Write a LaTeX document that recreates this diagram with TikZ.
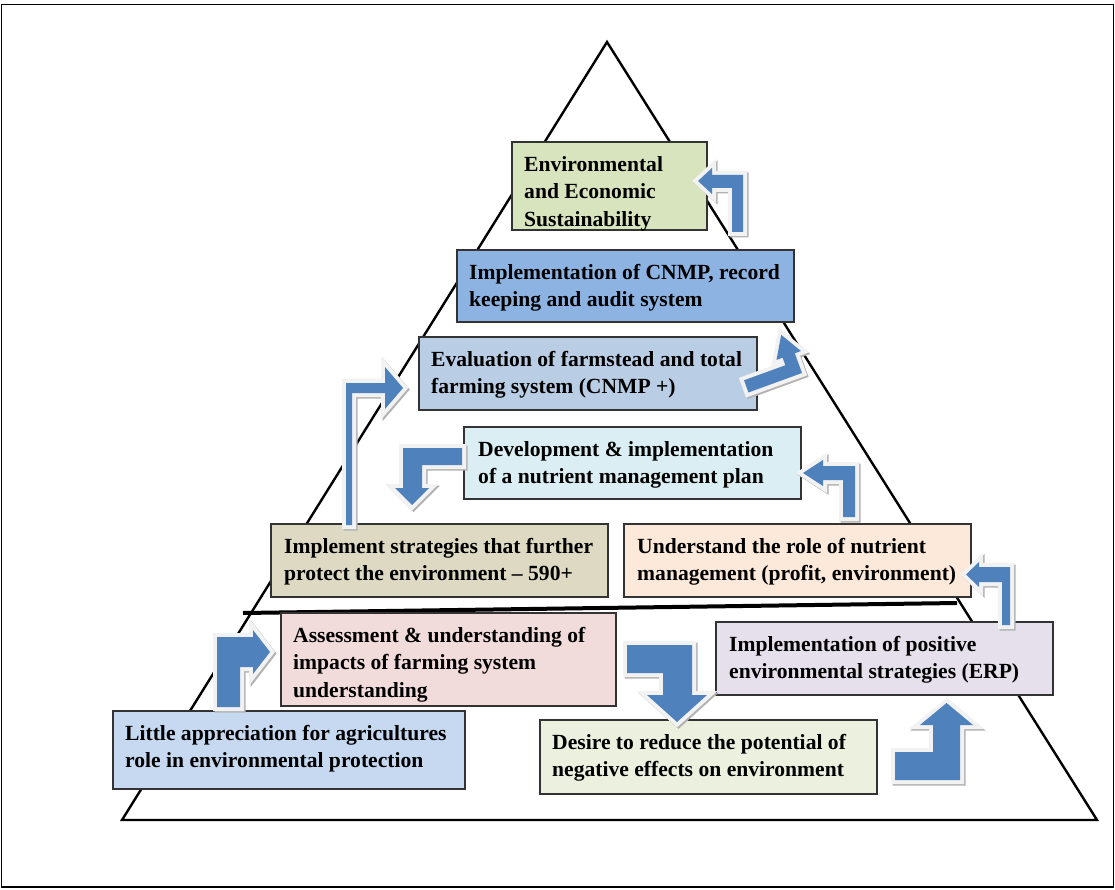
\documentclass[tikz,border=0pt]{standalone}
\usepackage{fontspec}
\setmainfont{Liberation Serif}
\definecolor{arrowblue}{HTML}{4F81BD}
\definecolor{cA}{HTML}{D7E4BD}
\definecolor{cB}{HTML}{8DB3E2}
\definecolor{cC}{HTML}{B9CDE5}
\definecolor{cD}{HTML}{DBEEF4}
\definecolor{cE}{HTML}{DDD9C3}
\definecolor{cF}{HTML}{FDE9D9}
\definecolor{cG}{HTML}{F2DCDB}
\definecolor{cH}{HTML}{E5E0EC}
\definecolor{cI}{HTML}{C6D9F1}
\definecolor{cJ}{HTML}{EBF1DE}
\newcommand\myblockarrow[2][]{%
  \draw[arrowshadow,#1] #2;
  \draw[arrowrim,#1] #2;
  \fill[arrowfill,#1] #2;}
\begin{document}
\begin{tikzpicture}[x=1pt,y=-1pt,
  box/.style={draw=black!80, line width=1.1pt, anchor=north west, inner sep=0pt, outer sep=0pt},
  lbl/.style={anchor=north west, inner sep=0pt, align=left, font=\bfseries\fontsize{21.6}{27.5}\selectfont},
  arrowshadow/.style={draw=black!30, fill=black!30, line width=8pt, line join=miter, xshift=1.5pt, yshift=-1.5pt},
  arrowrim/.style={draw=black!5, fill=black!5, line width=8pt, line join=miter},
  arrowfill/.style={fill=arrowblue}]
\useasboundingbox (0,0) rectangle (1115,890);
\draw[line width=1.5pt] (1.5,4.5) rectangle (1113.5,887);
% pyramid
\coordinate (apex) at (607,42);
\coordinate (bl) at (122,820);
\coordinate (br) at (1097,820);
\draw[line width=2.4pt, line join=miter] (apex) -- (bl) -- (br) -- cycle;
\coordinate (sepL) at (243,613);
\coordinate (sepR) at (957,603);
\draw[line width=4pt] (sepL) -- (sepR);
% boxes
\node[box, fill=cA, minimum width=195pt, minimum height=88pt] (b1) at (512,142) {};
\node[box, fill=cB, minimum width=337pt, minimum height=72pt] (b2) at (457,250) {};
\node[box, fill=cC, minimum width=338pt, minimum height=73pt] (b3) at (419,337) {};
\node[box, fill=cD, minimum width=337pt, minimum height=72pt] (b4) at (464,427) {};
\node[box, fill=cE, minimum width=337pt, minimum height=73pt] (b5) at (271,524) {};
\node[box, fill=cF, minimum width=347pt, minimum height=73pt] (b6) at (624,524) {};
\node[box, fill=cG, minimum width=335pt, minimum height=93pt] (b7) at (281,613) {};
\node[box, fill=cH, minimum width=337pt, minimum height=73pt] (b8) at (716,622) {};
\node[box, fill=cI, minimum width=352pt, minimum height=78pt] (b9) at (113,711) {};
\node[box, fill=cJ, minimum width=337pt, minimum height=74pt] (b10) at (540,720) {};
% labels
\node[lbl] (t1) at ([shift={(12,14)}]b1.north west) {Environmental\\and Economic\\Sustainability};
\node[lbl] (t2) at ([shift={(12,14)}]b2.north west) {Implementation of CNMP, record\\keeping and audit system};
\node[lbl] (t3) at ([shift={(12,14)}]b3.north west) {Evaluation of farmstead and total\\farming system (CNMP +)};
\node[lbl] (t4) at ([shift={(14,14)}]b4.north west) {Development \& implementation\\of a nutrient management plan};
\node[lbl] (t5) at ([shift={(13,14)}]b5.north west) {Implement strategies that further\\protect the environment – 590+};
\node[lbl] (t6) at ([shift={(13,14)}]b6.north west) {Understand the role of nutrient\\management (profit, environment)};
\node[lbl] (t7) at ([shift={(12,14)}]b7.north west) {Assessment \& understanding of\\impacts of farming system\\understanding};
\node[lbl] (t8) at ([shift={(13,14)}]b8.north west) {Implementation of positive\\environmental strategies (ERP)};
\node[lbl] (t9) at ([shift={(12,14)}]b9.north west) {Little appreciation for agricultures\\role in environmental protection};
\node[lbl] (t10) at ([shift={(12,14)}]b10.north west) {Desire to reduce the potential of\\negative effects on environment};
% bent block arrows
\myblockarrow{(732,232) -- (732,188) -- (712,188) -- (712,194) -- (698,181) -- (712,168) -- (712,175) -- (743,175) -- (743,232) -- cycle}
\myblockarrow[rotate around={20:(802,373)}]{(745,373) -- (802,373) -- (802,352) -- (808.5,352) -- (795.5,330) -- (782.5,352) -- (789,352) -- (789,360) -- (745,360) -- cycle}
\myblockarrow{(346,525) -- (346,383) -- (385,383) -- (385,367) -- (403,388) -- (385,409) -- (385,393) -- (352,393) -- (352,525) -- cycle}
\myblockarrow{(462,448) -- (462,465) -- (422,465) -- (422,488) -- (429,488) -- (412,505) -- (395,488) -- (403,488) -- (403,448) -- cycle}
\myblockarrow{(843,517) -- (843,480) -- (823,480) -- (823,486) -- (803,473) -- (823,460) -- (823,466) -- (855,466) -- (855,517) -- cycle}
\myblockarrow{(1002,625) -- (1002,582) -- (979,582) -- (979,587) -- (966,574.5) -- (979,562) -- (979,567) -- (1010,567) -- (1010,625) -- cycle}
\myblockarrow{(217,707) -- (217,637) -- (253,637) -- (253,630) -- (270,652) -- (253,674) -- (253,667) -- (240,667) -- (240,707) -- cycle}
\myblockarrow{(627,645) -- (692,645) -- (692,695) -- (707,695) -- (677,722) -- (647,695) -- (663,695) -- (663,673) -- (627,673) -- cycle}
\myblockarrow{(895,780) -- (895,752) -- (933,752) -- (933,725) -- (920,725) -- (946.5,703) -- (973,725) -- (960,725) -- (960,780) -- cycle}
\end{tikzpicture}
\end{document}
